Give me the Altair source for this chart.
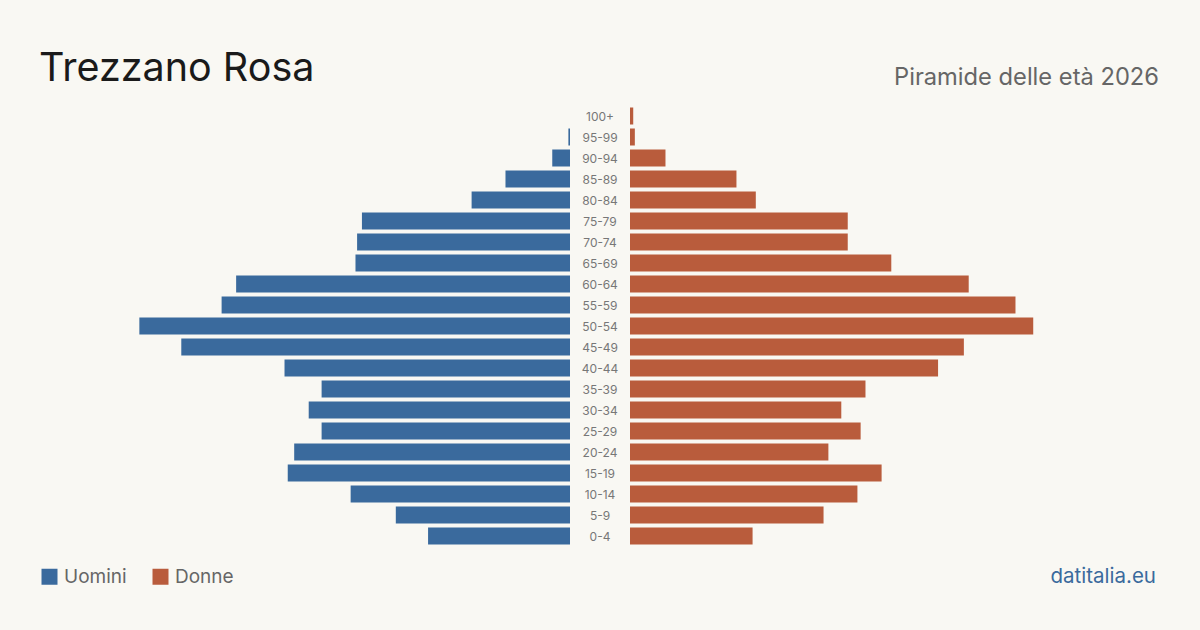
import altair as alt
import pandas as pd

ages = ["0-4", "5-9", "10-14", "15-19", "20-24", "25-29", "30-34", "35-39",
        "40-44", "45-49", "50-54", "55-59", "60-64", "65-69", "70-74", "75-79",
        "80-84", "85-89", "90-94", "95-99", "100+"]
uomini = [88, 108, 136, 175, 171, 154, 162, 154, 177, 241, 267, 216, 207,
          133, 132, 129, 61, 40, 11, 1, 0]
donne = [76, 120, 141, 156, 123, 143, 131, 146, 191, 207, 250, 239, 210,
         162, 135, 135, 78, 66, 22, 3, 2]

title_text = "Trezzano Rosa"
subtitle_text = "Piramide delle età 2026"
source_text = "datitalia.eu"

BLUE = "#3a6a9d"
ORANGE = "#b95c3c"
BG = "#f9f8f3"
FONT = "Inter"

rows = []
for a, m, f in zip(ages, uomini, donne):
    rows.append({"age": a, "sex": "Uomini", "value": m})
    rows.append({"age": a, "sex": "Donne", "value": f})
df = pd.DataFrame(rows)

age_order = list(reversed(ages))
xmax = 328.6

y_enc = alt.Y("age:N", sort=age_order, axis=None,
              scale=alt.Scale(domain=age_order, range=[105.5, 546.5],
                              paddingInner=0.19, paddingOuter=0.095))
color_enc = alt.Color(
    "sex:N",
    scale=alt.Scale(domain=["Uomini", "Donne"], range=[BLUE, ORANGE]),
    legend=alt.Legend(orient="none", legendX=40, legendY=567, direction="horizontal",
                      title=None, symbolType="square", symbolSize=256,
                      symbolStrokeWidth=0, symbolOpacity=1, labelFontSize=19,
                      labelColor="#666666", labelFont=FONT, labelOffset=5,
                      columnPadding=24, labelLimit=200),
)

base = alt.Chart(df)

male = base.transform_filter(alt.datum.sex == "Uomini").mark_bar(opacity=1).encode(
    x=alt.X("value:Q", axis=None,
            scale=alt.Scale(domain=[0, xmax], range=[570, 40], nice=False, zero=True)),
    y=y_enc,
    color=color_enc,
)
female = base.transform_filter(alt.datum.sex == "Donne").mark_bar(opacity=1).encode(
    x=alt.X("value:Q", axis=None,
            scale=alt.Scale(domain=[0, xmax], range=[630, 1160], nice=False, zero=True)),
    y=y_enc,
    color=color_enc,
)

labels = alt.Chart(pd.DataFrame({"age": ages})).mark_text(
    font=FONT, fontSize=12, color="#777777", align="center", baseline="middle", dy=1
).encode(
    x=alt.value(600),
    y=alt.Y("age:N", sort=age_order, axis=None),
    text="age:N",
)

one = alt.Data(values=[{"k": 1}])
title = alt.Chart(one).mark_text(
    font=FONT, fontSize=39.5, color="#1a1a1a", align="left", baseline="alphabetic"
).encode(x=alt.value(39), y=alt.value(81), text=alt.value(title_text))
subtitle = alt.Chart(one).mark_text(
    font=FONT, fontSize=23.7, color="#666666", align="right", baseline="alphabetic"
).encode(x=alt.value(1159), y=alt.value(85), text=alt.value(subtitle_text))
source = alt.Chart(one).mark_text(
    font=FONT, fontSize=20.5, color=BLUE, align="right", baseline="alphabetic"
).encode(x=alt.value(1156), y=alt.value(583), text=alt.value(source_text))

chart = alt.layer(male, female, labels, title, subtitle, source).resolve_scale(
    x="independent"
).properties(
    width=1200, height=630,
    autosize=alt.AutoSizeParams(type="none"),
    padding=0,
    background=BG,
).configure_view(stroke=None)

chart.save("out.html", embed_options={"renderer": "svg", "actions": False})
